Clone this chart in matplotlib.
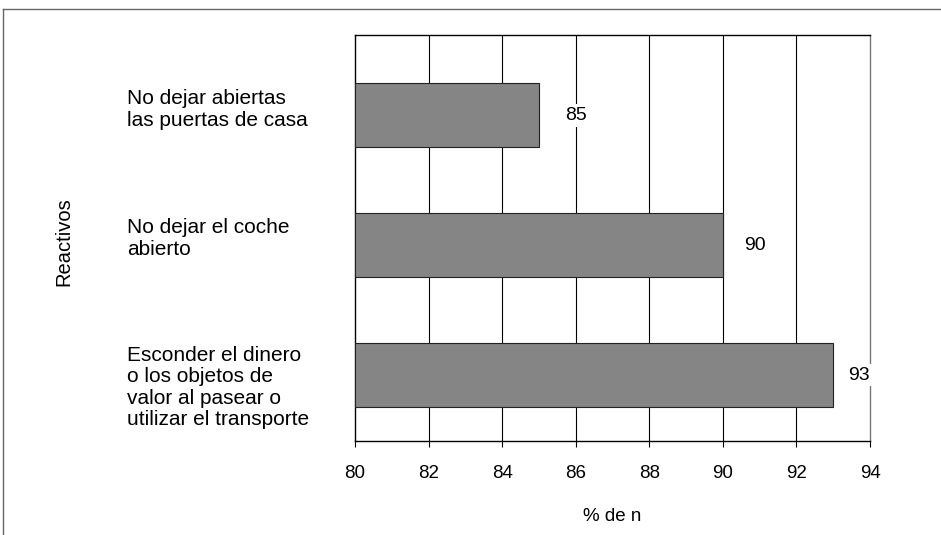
import matplotlib
matplotlib.use("Agg")
import matplotlib.pyplot as plt
from matplotlib.lines import Line2D

plt.rcParams['font.family'] = ['Liberation Sans', 'DejaVu Sans']

categories = [
    "No dejar abiertas\nlas puertas de casa",
    "No dejar el coche\nabierto",
    "Esconder el dinero\no los objetos de\nvalor al pasear o\nutilizar el transporte",
]
values = [85, 90, 93]
xticks = [80, 82, 84, 86, 88, 90, 92, 94]

W, H = 941, 535
fig = plt.figure(figsize=(W / 100, H / 100), dpi=100)
ax = fig.add_axes([355 / W, 1 - 441 / H, (870 - 355) / W, (441 - 35) / H])

ypos = list(range(len(categories)))
ax.barh(ypos, [v - 80 for v in values], left=80, height=0.49,
        color='#858585', edgecolor='#222222', linewidth=0.8, zorder=3)

ax.set_xlim(80, 94)
ax.set_ylim(2.507, -0.618)
ax.set_xticks(xticks)
ax.set_xticklabels([str(t) for t in xticks], fontsize=13.5)
ax.set_yticks([])
ax.tick_params(axis='x', direction='out', length=4, width=0.8, pad=13, colors='black')

for x in xticks[1:-1]:
    ax.axvline(x, color='black', linewidth=0.8, zorder=1)

for s in ['left', 'top', 'bottom']:
    ax.spines[s].set_color('black')
    ax.spines[s].set_linewidth(1.0)
ax.spines['right'].set_color('#777777')
ax.spines['right'].set_linewidth(1.0)

offsets = [1.0, 0.87, 0.7]
for y, v, o in zip(ypos, values, offsets):
    ax.text(v + o, y, str(v), ha='center', va='center', fontsize=14,
            bbox=dict(facecolor='white', edgecolor='none', pad=2), zorder=4)

ax.set_xlabel("% de n", fontsize=13.5, labelpad=19)

label_shift = [-0.045, -0.05, 0.095]
for y, c, d in zip(ypos, categories, label_shift):
    ax.text(-0.443, y + d, c, transform=ax.get_yaxis_transform(), ha='left', va='center',
            fontsize=15, linespacing=1.17)

fig.text(64 / W, 1 - 242 / H, "Reactivos", rotation=90, ha='center', va='center', fontsize=14.5)

# outer frame
fig.add_artist(Line2D([3 / W, 1.0], [1 - 9 / H, 1 - 9 / H], color='#666666', linewidth=1.0,
                      transform=fig.transFigure))
fig.add_artist(Line2D([3 / W, 3 / W], [0, 1 - 9 / H], color='#666666', linewidth=1.0,
                      transform=fig.transFigure))

fig.savefig("out.png", dpi=100)
